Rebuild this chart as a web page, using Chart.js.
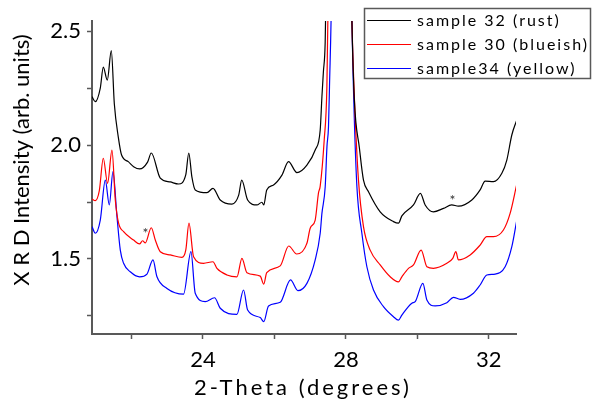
<!DOCTYPE html>
<html>
<head>
<meta charset="utf-8">
<script src="https://cdn.jsdelivr.net/npm/chart.js@4"></script>
<style>
  html, body { margin: 0; padding: 0; background: #fff; }
</style>
</head>
<body>
<canvas id="xrd" width="592" height="403"></canvas>
<script>
// XRD scans (2-theta in degrees, intensity in arb. units)
const x32 = [20.895, 20.987, 21.127, 21.211, 21.323, 21.435, 21.52, 21.63, 21.723, 21.91, 22.06, 22.226, 22.45, 22.554, 22.805, 23.085, 23.317, 23.52, 23.603, 23.69, 23.784, 24.112, 24.280, 24.484, 24.811, 25.0, 25.085, 25.25, 25.51, 25.650, 25.70, 25.785, 25.975, 26.21, 26.394, 26.629, 26.909, 27.141, 27.281, 27.329, 27.37, 27.42, 27.50, 27.80, 28.10, 28.168, 28.237, 28.378, 28.492, 28.632, 28.959, 29.331, 29.471, 29.566, 29.891, 30.085, 30.218, 30.450, 30.730, 30.96, 31.149, 31.524, 31.756, 31.897, 32.129, 32.364, 32.503, 32.643, 32.783];
const y32 = [2.212, 2.190, 2.25, 2.342, 2.285, 2.414, 2.18, 2.036, 1.956, 1.927, 1.905, 1.895, 1.925, 1.965, 1.855, 1.838, 1.829, 1.87, 1.965, 1.86, 1.803, 1.791, 1.810, 1.759, 1.741, 1.78, 1.846, 1.759, 1.737, 1.749, 1.737, 1.803, 1.825, 1.868, 1.927, 1.879, 1.912, 1.978, 2.066, 2.212, 2.32, 2.45, 3.2, 8, 3.2, 2.548, 2.197, 1.987, 1.846, 1.795, 1.707, 1.664, 1.657, 1.689, 1.737, 1.788, 1.737, 1.707, 1.722, 1.737, 1.732, 1.759, 1.803, 1.842, 1.839, 1.876, 1.934, 2.044, 2.110];

const x30 = [20.895, 20.987, 21.10, 21.211, 21.331, 21.454, 21.547, 21.639, 21.779, 22.059, 22.226, 22.310, 22.386, 22.554, 22.666, 22.805, 23.085, 23.412, 23.52, 23.608, 23.737, 24.017, 24.280, 24.392, 24.671, 24.951, 25.091, 25.231, 25.603, 25.70, 25.785, 26.162, 26.40, 26.623, 26.909, 27.001, 27.141, 27.233, 27.281, 27.393, 27.468, 27.50, 27.85, 28.10, 28.168, 28.24, 28.352, 28.492, 28.679, 28.959, 29.239, 29.471, 29.566, 29.752, 29.891, 30.106, 30.266, 30.450, 30.825, 30.99, 31.077, 31.149, 31.477, 31.756, 31.944, 32.129, 32.408, 32.595, 32.783];
const y30 = [1.763, 1.756, 1.80, 1.942, 1.832, 1.978, 1.759, 1.657, 1.620, 1.583, 1.566, 1.580, 1.571, 1.637, 1.583, 1.532, 1.518, 1.507, 1.54, 1.657, 1.510, 1.481, 1.488, 1.459, 1.430, 1.422, 1.503, 1.44, 1.425, 1.390, 1.440, 1.47, 1.557, 1.522, 1.569, 1.635, 1.671, 1.79, 1.82, 2.022, 2.256, 2.6, 8, 3.2, 2.548, 2.197, 1.846, 1.642, 1.539, 1.474, 1.422, 1.400, 1.422, 1.459, 1.474, 1.539, 1.466, 1.459, 1.481, 1.503, 1.532, 1.496, 1.518, 1.561, 1.598, 1.598, 1.627, 1.700, 1.829];

const x34 = [20.895, 20.987, 21.127, 21.267, 21.379, 21.482, 21.594, 21.687, 21.779, 21.966, 22.226, 22.433, 22.601, 22.713, 22.993, 23.457, 23.664, 23.784, 24.064, 24.324, 24.484, 24.95, 25.136, 25.25, 25.603, 25.70, 25.835, 26.162, 26.45, 26.657, 26.909, 27.141, 27.281, 27.329, 27.421, 27.47, 27.513, 27.541, 27.60, 27.90, 28.12, 28.17, 28.22, 28.308, 28.447, 28.587, 28.772, 29.051, 29.331, 29.471, 29.566, 29.846, 29.939, 30.154, 30.266, 30.498, 30.825, 31.01, 31.197, 31.569, 31.756, 31.944, 32.176, 32.456, 32.643, 32.783];
const y34 = [1.642, 1.613, 1.671, 1.846, 1.737, 1.883, 1.686, 1.539, 1.481, 1.444, 1.422, 1.434, 1.496, 1.422, 1.371, 1.346, 1.532, 1.350, 1.313, 1.330, 1.284, 1.257, 1.364, 1.276, 1.243, 1.225, 1.294, 1.310, 1.408, 1.361, 1.393, 1.496, 1.613, 1.700, 1.817, 1.993, 2.08, 2.256, 2.7, 8, 3.2, 2.55, 2.2, 1.817, 1.613, 1.466, 1.364, 1.291, 1.247, 1.232, 1.254, 1.306, 1.313, 1.393, 1.320, 1.294, 1.308, 1.332, 1.323, 1.350, 1.386, 1.430, 1.434, 1.466, 1.554, 1.671];

const seriesNames = ['sample 32 (rust)', 'sample 30 (blueish)', 'sample34 (yellow)'];
const seriesColors = ['#000000', '#ff0000', '#0000ff'];

// the two "*" marks
const starX = [22.39, 30.98];
const starY = [1.627, 1.772];

const xMin = 20.895, xMax = 32.76;
const yMin = 1.171, yMax = 2.544;

const FONT = 'Lato, "Open Sans", sans-serif';

function pts(xs, ys) {
  return xs.map((x, i) => ({ x: x, y: ys[i] }));
}

const decor = {
  id: 'decor',
  afterDraw(chart) {
    const ctx = chart.ctx;
    const xs = chart.scales.x, ys = chart.scales.y;
    ctx.save();
    ctx.fillStyle = '#000';

    // axis titles
    ctx.font = '22px ' + FONT;
    ctx.letterSpacing = '0px';
    ctx.textAlign = 'center';
    ctx.textBaseline = 'middle';
    ctx.save();
    ctx.translate(22, 160);
    ctx.rotate(-Math.PI / 2);
    ctx.fillText('X R D Intensity (arb. units)', 0, 0);
    ctx.restore();
    ctx.letterSpacing = '3px';
    ctx.fillText('2-Theta (degrees)', 303, 388);

    // asterisks
    ctx.letterSpacing = '0px';
    ctx.font = '14px ' + FONT;
    ctx.fillStyle = '#333';
    starX.forEach((sx, i) => {
      ctx.fillText('*', xs.getPixelForValue(sx), ys.getPixelForValue(starY[i]) + 3);
    });

    // legend box
    ctx.fillStyle = '#fff';
    ctx.fillRect(364, 8, 227, 71);
    ctx.strokeStyle = '#595959';
    ctx.lineWidth = 1.5;
    ctx.strokeRect(364.5, 8.5, 226, 70);
    ctx.font = '16px ' + FONT;
    ctx.letterSpacing = '2px';
    ctx.textAlign = 'left';
    seriesNames.forEach((name, i) => {
      const y = 20 + i * 24;
      ctx.strokeStyle = seriesColors[i];
      ctx.lineWidth = 1.2;
      ctx.beginPath();
      ctx.moveTo(367, y + 0.5);
      ctx.lineTo(411, y + 0.5);
      ctx.stroke();
      ctx.fillStyle = '#000';
      ctx.fillText(name, 417, y + 1);
    });
    ctx.restore();
  }
};

const data32 = pts(x32, y32), data30 = pts(x30, y30), data34 = pts(x34, y34);

new Chart(document.getElementById('xrd').getContext('2d'), {
  type: 'line',
  data: {
    datasets: [data32, data30, data34].map((d, i) => ({
      label: seriesNames[i],
      data: d,
      borderColor: seriesColors[i],
      borderWidth: 1.2,
      pointRadius: 0,
      fill: false,
      cubicInterpolationMode: 'monotone'
    }))
  },
  options: {
    responsive: false,
    animation: false,
    devicePixelRatio: 1,
    layout: { padding: { left: 0, right: 76, top: 21, bottom: 0 } },
    plugins: { legend: { display: false }, tooltip: { enabled: false } },
    scales: {
      x: {
        type: 'linear',
        min: xMin,
        max: xMax,
        afterFit: s => { s.height = 69; },
        border: { color: '#595959', width: 2 },
        grid: { drawOnChartArea: false, drawTicks: true, tickLength: 5, color: '#595959', tickWidth: 1.5 },
        ticks: {
          stepSize: 2,
          includeBounds: false,
          autoSkip: false,
          maxRotation: 0,
          padding: 8,
          color: '#000',
          font: { family: FONT, size: 22 },
          callback: v => (v % 4 === 0 ? String(v) : '')
        }
      },
      y: {
        min: yMin,
        max: yMax,
        afterFit: s => { s.width = 92; },
        border: { color: '#595959', width: 2 },
        grid: { drawOnChartArea: false, drawTicks: true, tickLength: 5, color: '#595959', tickWidth: 1.5 },
        ticks: {
          stepSize: 0.25,
          includeBounds: false,
          autoSkip: false,
          padding: 6,
          color: '#000',
          font: { family: FONT, size: 22 },
          callback: v => (Math.abs(v * 2 - Math.round(v * 2)) < 1e-6 ? v.toFixed(1) : '')
        }
      }
    }
  },
  plugins: [decor]
});
</script>
</body>
</html>
